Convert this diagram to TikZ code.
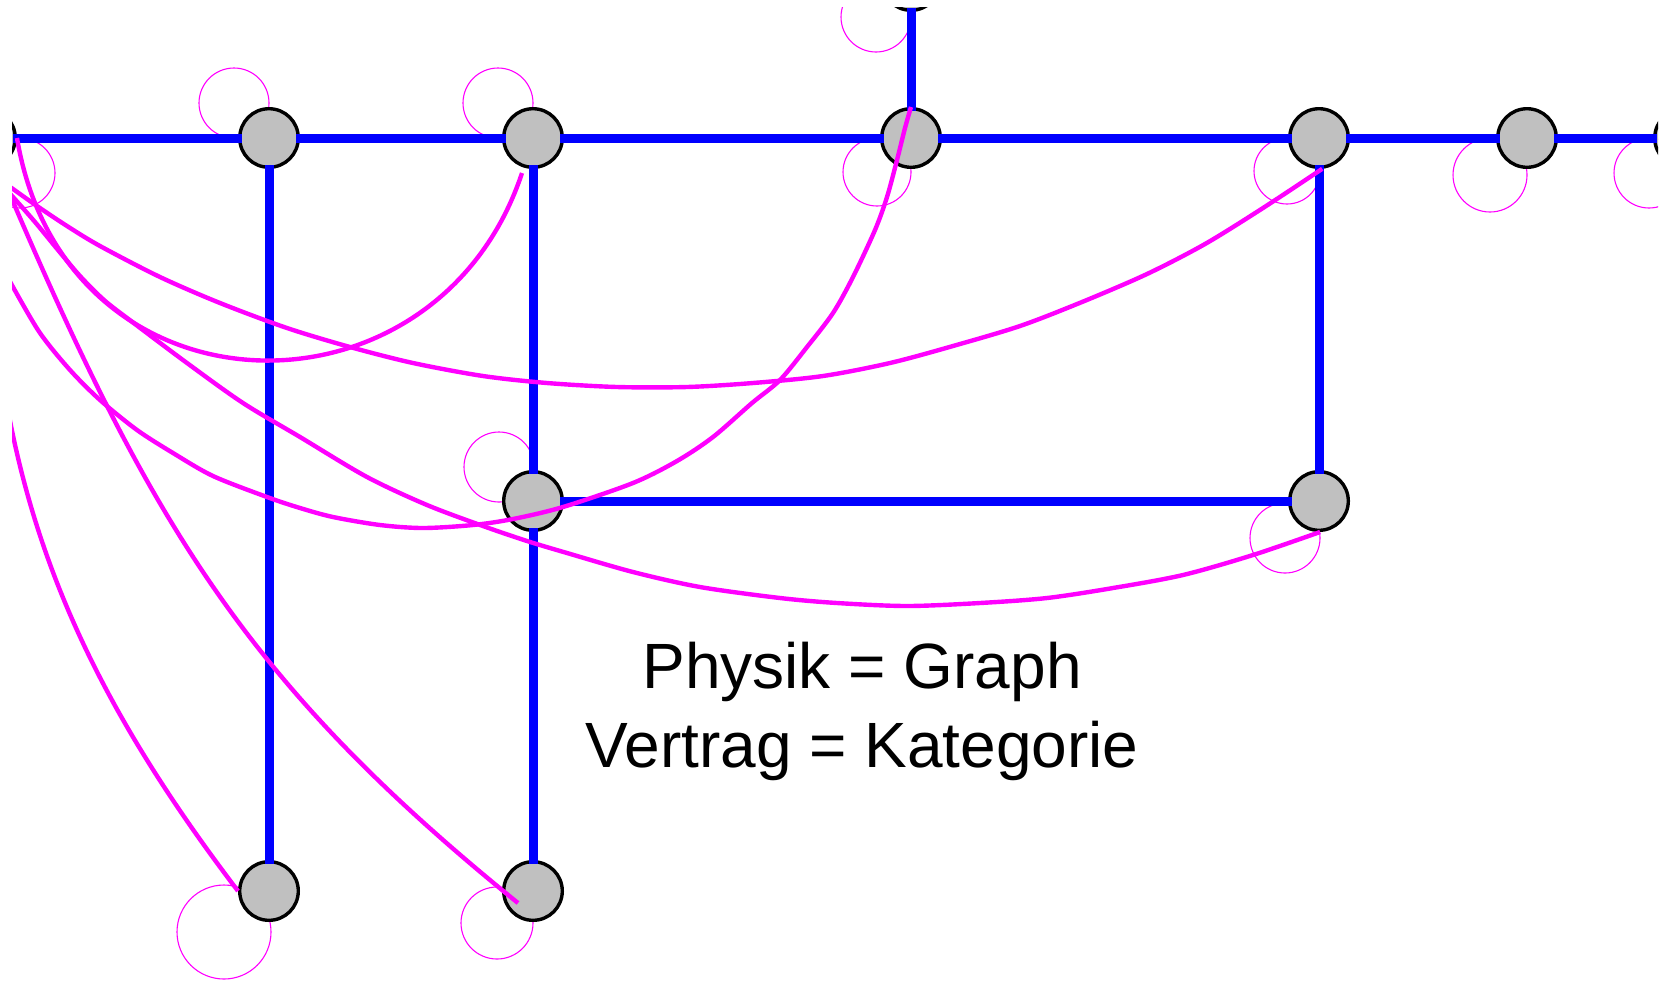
\documentclass[tikz,border=0pt]{standalone}
\usepackage{fontspec}
\setmainfont{Liberation Sans}
\usetikzlibrary{calc}
\definecolor{nodegray}{RGB}{192,192,192}
\definecolor{edgeblue}{RGB}{0,0,255}
\definecolor{pinkline}{RGB}{255,0,255}
\begin{document}
\begin{tikzpicture}[x=0.5pt,y=-0.5pt,
  vertex/.style={circle,draw=black,line width=1.7pt,fill=nodegray,minimum size=29.3pt,inner sep=0pt},
  bluelink/.style={draw=edgeblue,line width=4.5pt,shorten <=-2pt,shorten >=-2pt},
  pinkcurve/.style={draw=pinkline,line width=2.2pt},
  selfloop/.style={draw=pinkline,line width=0.55pt},
  infotext/.style={font=\fontsize{32}{39.5}\selectfont,anchor=base,inner sep=0pt}]
\useasboundingbox (0,0) rectangle (1668,986);
\begin{scope}
\clip (12,7) rectangle (1658,986);
% positions
\coordinate (p0) at (-14,138);
\coordinate (p1) at (269,138);
\coordinate (p2) at (533,138);
\coordinate (p3) at (911,138);
\coordinate (p4) at (1319,138);
\coordinate (p5) at (1527,138);
\coordinate (p6) at (1684,138);
\coordinate (ptop) at (911,-19);
\coordinate (p7) at (533,501);
\coordinate (p8) at (1319,501);
\coordinate (p9) at (269,891);
\coordinate (p10) at (533,891);
% self loops
\foreach \c/\dx/\dy/\r in {p0/34/35/35, p1/-35/-35/35, p2/-35/-35/35, ptop/-35/36/35,
  p3/-34/34/34, p4/-32/33/33, p5/-37/37/37, p6/-35/35/35, p7/-34/-34/35,
  p8/-34/37/35, p9/-45/41/47, p10/-36/32/36}
  \draw[selfloop] ($(\c)+(\dx,\dy)$) circle[radius=\r];
% nodes
\node[vertex] (n0) at (p0) {};
\node[vertex] (n1) at (p1) {};
\node[vertex] (n2) at (p2) {};
\node[vertex] (n3) at (p3) {};
\node[vertex] (n4) at (p4) {};
\node[vertex] (n5) at (p5) {};
\node[vertex] (n6) at (p6) {};
\node[vertex] (ntop) at (ptop) {};
\node[vertex] (n7) at (p7) {};
\node[vertex] (n8) at (p8) {};
\node[vertex] (n9) at (p9) {};
\node[vertex] (n10) at (p10) {};
% blue edges
\draw[bluelink] (n0) -- (n1);
\draw[bluelink] (n1) -- (n2);
\draw[bluelink] (n2) -- (n3);
\draw[bluelink] (n3) -- (n4);
\draw[bluelink] (n4) -- (n5);
\draw[bluelink] (n5) -- (n6);
\draw[bluelink] (ntop) -- (n3);
\draw[bluelink] (n1) -- (n9);
\draw[bluelink] (n2) -- (n7);
\draw[bluelink] (n7) -- (n10);
\draw[bluelink] (n7) -- (n8);
\draw[bluelink] (n4) -- (n8);
% curve end points
\coordinate (aend) at ($(p2)+(-11,35)$);
\coordinate (fend) at ($(p10)+(-15,12)$);
\coordinate (bstart) at (0,180);
\coordinate (cstart) at (0,262);
\coordinate (dstart) at (0,183);
\coordinate (bend) at (n4.276);
\coordinate (dend) at (n8.272);
% magenta curves
\draw[pinkcurve] (n0.east) .. controls (65,425) and (436,432) .. (aend);
\draw[pinkcurve] (n0.center) .. controls (142.5,511) and (235.8,674.7) .. (fend);
\draw[pinkcurve] (n0.center) .. controls (-14,446) and (46,639) .. (n9.west);
\draw[pinkcurve] plot[smooth] coordinates {(bstart) (13,189) (37,206) (67,226) (100,246)
  (160,277) (220,303) (287,328) (350,347) (413,363) (483,376) (547,383) (617,387)
  (687,387) (753,383) (823,376) (890,363) (953,346) (1020,326) (1082,302) (1147,274)
  (1205,244) (1263,208) (bend)};
\draw[pinkcurve] plot[smooth] coordinates {(dstart) (13,197) (35,222) (58,250) (80,276)
  (104,300) (131,321) (187,363) (243,403) (300,437) (367,477) (427,505) (483,526)
  (527,541) (567,553) (633,572) (700,587) (780,598) (837,603) (907,606) (980,603)
  (1047,598) (1113,588) (1183,575) (1253,555) (dend)};
\draw[pinkcurve] plot[smooth] coordinates {(cstart) (13,287) (40,333) (70,370) (100,400)
  (137,430) (173,453) (213,476) (267,497) (300,508) (333,517) (380,525) (423,528)
  (473,525) (513,519) (563,507) (633,483) (677,461) (713,437) (752,403) (780,380)
  (807,347) (833,313) (853,277) (875,230) (887,197) (897,160) (905,128) (n3.north)};
\end{scope}
% text
\node[infotext] (t1) at (862,688) {Physik = Graph};
\node[infotext] (t2) at (862,767) {Vertrag = Kategorie};
\end{tikzpicture}
\end{document}
